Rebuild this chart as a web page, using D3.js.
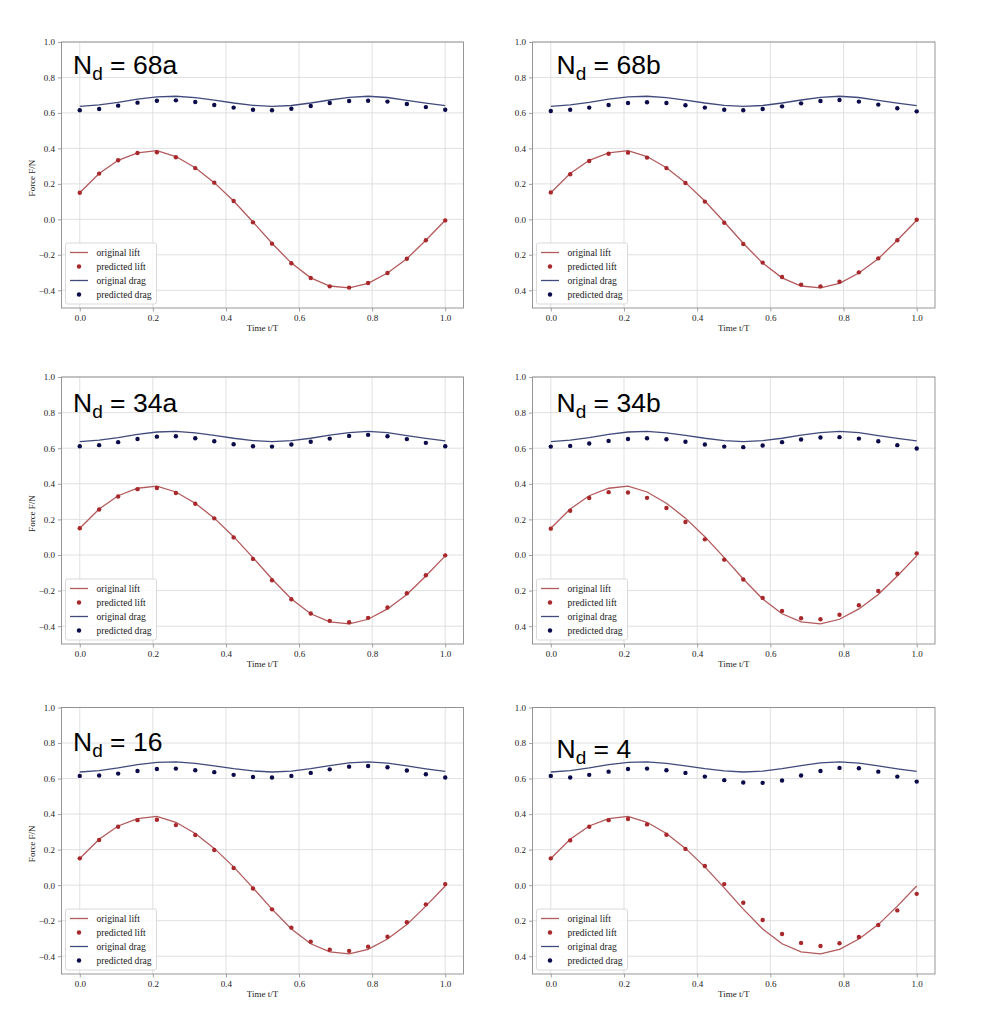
<!DOCTYPE html>
<html><head><meta charset="utf-8">
<script src="https://cdn.jsdelivr.net/npm/d3@7"></script>
<style>body{margin:0;background:#fff}</style>
</head><body>
<svg id="c" width="984" height="1014"></svg>
<script>
// ---------- data ----------
const tValues = [0, 0.053, 0.105, 0.158, 0.211, 0.263, 0.316, 0.368, 0.421, 0.474,
                 0.526, 0.579, 0.632, 0.684, 0.737, 0.789, 0.842, 0.895, 0.947, 1.0];

const originalLift = [0.150, 0.258, 0.333, 0.375, 0.387, 0.354, 0.291, 0.207, 0.103, -0.015,
                      -0.135, -0.247, -0.330, -0.376, -0.387, -0.361, -0.303, -0.222, -0.118, -0.005];
const originalDrag = [0.637, 0.645, 0.660, 0.678, 0.691, 0.694, 0.686, 0.672, 0.656, 0.643,
                      0.637, 0.642, 0.656, 0.673, 0.688, 0.694, 0.687, 0.671, 0.655, 0.641];

const panelNames = ["68a", "68b", "34a", "34b", "16", "4"];

const predLift68a = [0.150, 0.258, 0.333, 0.374, 0.378, 0.350, 0.289, 0.207, 0.103, -0.017,
                     -0.137, -0.248, -0.331, -0.378, -0.385, -0.359, -0.303, -0.222, -0.118, -0.006];
const predDrag68a = [0.615, 0.622, 0.641, 0.658, 0.669, 0.671, 0.662, 0.645, 0.630, 0.618,
                     0.615, 0.624, 0.639, 0.656, 0.667, 0.669, 0.664, 0.650, 0.633, 0.618];

const predLift68b = [0.152, 0.254, 0.329, 0.370, 0.376, 0.348, 0.289, 0.205, 0.100, -0.019,
                     -0.139, -0.244, -0.325, -0.368, -0.378, -0.352, -0.299, -0.220, -0.118, -0.002];
const predDrag68b = [0.611, 0.618, 0.630, 0.645, 0.656, 0.660, 0.656, 0.643, 0.630, 0.618,
                     0.615, 0.622, 0.637, 0.654, 0.667, 0.673, 0.664, 0.647, 0.626, 0.609];

const predLift34a = [0.150, 0.256, 0.329, 0.370, 0.376, 0.348, 0.288, 0.206, 0.099, -0.022,
                     -0.142, -0.249, -0.329, -0.370, -0.378, -0.353, -0.295, -0.215, -0.114, -0.002];
const predDrag34a = [0.611, 0.617, 0.634, 0.652, 0.665, 0.667, 0.656, 0.639, 0.622, 0.611,
                     0.609, 0.621, 0.636, 0.654, 0.669, 0.675, 0.667, 0.651, 0.630, 0.611];

const predLift34b = [0.148, 0.249, 0.320, 0.353, 0.351, 0.321, 0.264, 0.185, 0.088, -0.026,
                     -0.138, -0.241, -0.314, -0.355, -0.361, -0.336, -0.282, -0.202, -0.105, 0.009];
const predDrag34b = [0.609, 0.613, 0.626, 0.641, 0.652, 0.656, 0.650, 0.636, 0.621, 0.609,
                     0.606, 0.615, 0.634, 0.649, 0.660, 0.662, 0.654, 0.639, 0.617, 0.598];

const predLift16 = [0.151, 0.254, 0.329, 0.366, 0.368, 0.338, 0.282, 0.198, 0.097, -0.019,
                    -0.136, -0.239, -0.318, -0.363, -0.370, -0.346, -0.290, -0.209, -0.108, 0.006];
const predDrag16 = [0.615, 0.617, 0.628, 0.643, 0.654, 0.656, 0.647, 0.636, 0.621, 0.609,
                    0.606, 0.615, 0.632, 0.652, 0.667, 0.671, 0.664, 0.645, 0.624, 0.606];

const predLift4 = [0.151, 0.252, 0.329, 0.366, 0.372, 0.342, 0.284, 0.204, 0.108, 0.006,
                   -0.099, -0.196, -0.275, -0.325, -0.342, -0.327, -0.292, -0.224, -0.142, -0.049];
const predDrag4 = [0.615, 0.606, 0.621, 0.639, 0.654, 0.656, 0.647, 0.632, 0.611, 0.591,
                   0.578, 0.576, 0.589, 0.617, 0.643, 0.660, 0.658, 0.639, 0.611, 0.583];

const predLiftSets = [predLift68a, predLift68b, predLift34a, predLift34b, predLift16, predLift4];
const predDragSets = [predDrag68a, predDrag68b, predDrag34a, predDrag34b, predDrag16, predDrag4];

const xTicks = [0.0, 0.2, 0.4, 0.6, 0.8, 1.0];
const xTickLabels = ["0.0", "0.2", "0.4", "0.6", "0.8", "1.0"];
const yTicks = [-0.4, -0.2, 0.0, 0.2, 0.4, 0.6, 0.8, 1.0];
const yTickLabelsLeft = ["\u22120.4", "\u22120.2", "0.0", "0.2", "0.4", "0.6", "0.8", "1.0"];
const yTickLabelsRight = ["0.4", "0.2", "0.0", "0.2", "0.4", "0.6", "0.8", "1.0"];
const legendLabels = ["original lift", "predicted lift", "original drag", "predicted drag"];

// ---------- layout ----------
const layout = [
  {x0: 61.5, x1: 463.5, y0: 42,  y1: 308,   tdx: 11.5, tdy: 32,   left: true},
  {x0: 532.5, x1: 935,  y0: 42,  y1: 308,   tdx: 24,   tdy: 31.5, left: false},
  {x0: 61.5, x1: 463.5, y0: 377, y1: 644,   tdx: 11.5, tdy: 35,   left: true},
  {x0: 532.5, x1: 935,  y0: 377, y1: 644,   tdx: 24,   tdy: 35,   left: false},
  {x0: 61.5, x1: 463.5, y0: 707.5, y1: 974, tdx: 11.5, tdy: 43,   left: true},
  {x0: 532.5, x1: 935,  y0: 707.5, y1: 974, tdx: 24,   tdy: 50.5, left: false}
];

const C = {
  liftLine: "#b35a5c", liftPt: "#a8282b",
  dragLine: "#404a7c", dragPt: "#0b0b4a",
  grid: "#dcdcdc", frame: "#8c8c8c", text: "#222"
};
const serif = "'Liberation Serif','DejaVu Serif',serif";
const sans = "'Liberation Sans',Arial,sans-serif";

const svg = d3.select("#c");

layout.forEach((L, i) => {
  const x = d3.scaleLinear().domain([-0.05, 1.05]).range([L.x0, L.x1]);
  const y = d3.scaleLinear().domain([-0.5, 1.0]).range([L.y1, L.y0]);
  const g = svg.append("g");

  // grid
  g.append("g").selectAll("line").data(xTicks).join("line")
    .attr("x1", d => x(d)).attr("x2", d => x(d)).attr("y1", L.y0).attr("y2", L.y1)
    .attr("stroke", C.grid).attr("stroke-width", 0.9);
  g.append("g").selectAll("line").data(yTicks).join("line")
    .attr("y1", d => y(d)).attr("y2", d => y(d)).attr("x1", L.x0).attr("x2", L.x1)
    .attr("stroke", C.grid).attr("stroke-width", 0.9);

  // axes
  const yLabels = L.left ? yTickLabelsLeft : yTickLabelsRight;
  const ax = g.append("g").attr("transform", `translate(0,${L.y1})`)
    .call(d3.axisBottom(x).tickValues(xTicks).tickSize(3.5).tickPadding(3)
      .tickFormat((d, k) => xTickLabels[k]));
  const ay = g.append("g").attr("transform", `translate(${L.x0},0)`)
    .call(d3.axisLeft(y).tickValues(yTicks).tickSize(3.5).tickPadding(3)
      .tickFormat((d, k) => yLabels[k]));
  [ax, ay].forEach(a => {
    a.select(".domain").remove();
    a.selectAll(".tick line").attr("stroke", C.frame).attr("stroke-width", 0.8);
    a.selectAll(".tick text").attr("fill", C.text).style("font-family", serif).style("font-size", "9px");
  });

  // frame
  g.append("rect").attr("x", L.x0).attr("y", L.y0)
    .attr("width", L.x1 - L.x0).attr("height", L.y1 - L.y0)
    .attr("fill", "none").attr("stroke", C.frame).attr("stroke-width", 0.9);

  // lines
  const line = d3.line().x((d, k) => x(tValues[k])).y(d => y(d));
  g.append("path").datum(originalLift).attr("d", line)
    .attr("fill", "none").attr("stroke", C.liftLine).attr("stroke-width", 1.3);
  g.append("path").datum(originalDrag).attr("d", line)
    .attr("fill", "none").attr("stroke", C.dragLine).attr("stroke-width", 1.3);

  g.append("g").selectAll("circle").data(predLiftSets[i]).join("circle")
    .attr("cx", (d, k) => x(tValues[k])).attr("cy", d => y(d)).attr("r", 2.2)
    .attr("fill", C.liftPt);
  g.append("g").selectAll("circle").data(predDragSets[i]).join("circle")
    .attr("cx", (d, k) => x(tValues[k])).attr("cy", d => y(d)).attr("r", 2.2)
    .attr("fill", C.dragPt);

  // axis labels
  g.append("text").attr("x", x(0.5)).attr("y", L.y1 + 22.5)
    .attr("text-anchor", "middle").attr("fill", C.text)
    .style("font-family", serif).style("font-size", "9px").text("Time t/T");
  if (L.left) {
    g.append("text").attr("transform", `translate(${L.x0 - 27},${(L.y0 + L.y1) / 2 + 3}) rotate(-90)`)
      .attr("text-anchor", "middle").attr("fill", C.text)
      .style("font-family", serif).style("font-size", "9px").text("Force F/N");
  }

  // legend
  const lx = L.x0 + 4, ly = L.y1 - 65;
  const leg = g.append("g");
  leg.append("rect").attr("x", lx).attr("y", ly).attr("width", 91).attr("height", 61)
    .attr("rx", 2).attr("fill", "#fff").attr("fill-opacity", 0.85)
    .attr("stroke", "#d0d0d0").attr("stroke-width", 0.8);
  legendLabels.forEach((lab, k) => {
    const cy = ly + 9.5 + k * 14;
    if (k % 2 === 0) {
      leg.append("line").attr("x1", lx + 4.5).attr("x2", lx + 22.5).attr("y1", cy).attr("y2", cy)
        .attr("stroke", k === 0 ? C.liftLine : C.dragLine).attr("stroke-width", 1.3);
    } else {
      leg.append("circle").attr("cx", lx + 13.5).attr("cy", cy).attr("r", 2.2)
        .attr("fill", k === 1 ? C.liftPt : C.dragPt);
    }
    leg.append("text").attr("x", lx + 31).attr("y", cy + 3.2).attr("fill", C.text)
      .style("font-family", serif).style("font-size", "9.6px").text(lab);
  });

  // title
  const tt = g.append("text").attr("x", L.x0 + L.tdx).attr("y", L.y0 + L.tdy)
    .attr("fill", "#000").style("font-family", sans).style("font-size", "26.5px");
  tt.append("tspan").text("N");
  tt.append("tspan").attr("dy", 6).style("font-size", "19px").text("d");
  tt.append("tspan").attr("dy", -6).text(" = " + panelNames[i]);
});
</script>
</body></html>
